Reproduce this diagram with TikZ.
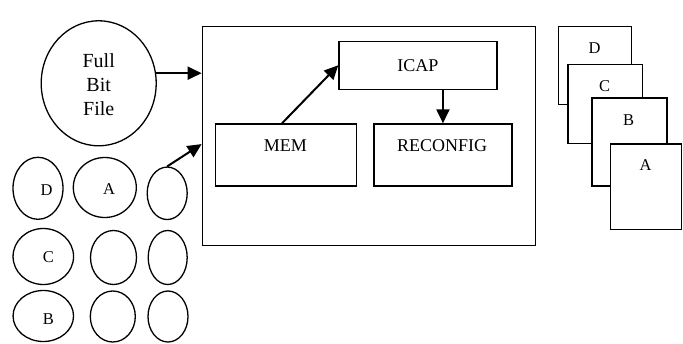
\documentclass[tikz,border=0pt]{standalone}
\usepackage{fontspec}
\setmainfont{Liberation Serif}
\usetikzlibrary{shapes.geometric,arrows.meta}
\begin{document}
\begin{tikzpicture}[x=1pt,y=-1pt,
  outline/.style={draw, line width=1.3pt},
  blob/.style={outline, ellipse, inner sep=0pt},
  unit/.style={outline, rectangle, inner sep=0pt, anchor=north west},
  sheet/.style={unit, fill=white},
  arr/.style={line width=2pt, -{Triangle[length=14pt,width=13pt]}},
  big/.style={font=\fontsize{18}{21}\selectfont, inner sep=0pt},
  small/.style={font=\fontsize{16.5}{19}\selectfont, inner sep=0pt}]
\useasboundingbox (0,0) rectangle (683,343);

% full bitstream source
\node[blob, minimum width=115pt, minimum height=125pt] (fbf) at (98.7,83.3) {};
\node[inner sep=0pt, align=center, font=\fontsize{20}{24}\selectfont] (fbftxt) at (98.7,85) {Full\\Bit\\File};

% partial bitstream pool
\node[blob, minimum width=50pt, minimum height=62pt] (pd) at (38,188.3) {};
\node[blob, minimum width=63pt, minimum height=60pt] (pa) at (104.8,187.5) {};
\node[blob, minimum width=40pt, minimum height=52.5pt] (e3) at (167.2,193.3) {};
\node[blob, minimum width=60.5pt, minimum height=56pt] (pc) at (43.3,256.5) {};
\node[blob, minimum width=46pt, minimum height=54pt] (e5) at (113.5,257.5) {};
\node[blob, minimum width=39pt, minimum height=54pt] (e6) at (167.7,257.5) {};
\node[blob, minimum width=60.5pt, minimum height=51pt] (pb) at (43.3,316) {};
\node[blob, minimum width=45pt, minimum height=51pt] (e8) at (112.8,316.5) {};
\node[blob, minimum width=40pt, minimum height=51pt] (e9) at (168,316.5) {};
\node[small] (tpd) at (46.7,190) {D};
\node[small] (tpa) at (109,189) {A};
\node[small] (tpc) at (48.3,256.7) {C};
\node[small] (tpb) at (48.3,319) {B};

% FPGA
\node[unit, minimum width=333pt, minimum height=219pt] (box) at (201.6,25.6) {};
\node[unit, minimum width=158pt, minimum height=48pt] (icap) at (338.3,40.6) {};
\node[unit, minimum width=141.5pt, minimum height=62pt] (mem) at (214.6,123.3) {};
\node[unit, minimum width=138pt, minimum height=62pt] (reconfig) at (373.3,123.3) {};
\node[big] (ticap) at (icap.center) {ICAP};
\node[big] (tmem) at (285.3,146) {MEM};
\node[big] (treconfig) at (442.2,146) {RECONFIG};

% reconfiguration pages
\node[sheet, minimum width=73pt, minimum height=78pt] (sd) at (557.9,25.6) {};
\node[sheet, minimum width=74.5pt, minimum height=79pt] (sc) at (567.3,63.9) {};
\node[sheet, minimum width=75pt, minimum height=88pt] (sb) at (591.3,97.3) {};
\node[sheet, minimum width=71.5pt, minimum height=85.5pt] (sa) at (609.6,143.3) {};
\node[small] (tsd) at (594.7,48.5) {D};
\node[small] (tsc) at (604.7,86.5) {C};
\node[small] (tsb) at (628.7,120.3) {B};
\node[small] (tsa) at (645.5,165.3) {A};

% data flow
\draw[arr] (fbf.10) -- (fbf.10 -| box.west);
\path (box.north west) ++(0,118.5) coordinate (in2);
\draw[arr] (e3.north) -- (in2);
\draw[arr] ([xshift=-4pt]mem.north) -- (icap.west);
\draw[arr] (icap.south -| reconfig.north) -- (reconfig.north);
\end{tikzpicture}
\end{document}
